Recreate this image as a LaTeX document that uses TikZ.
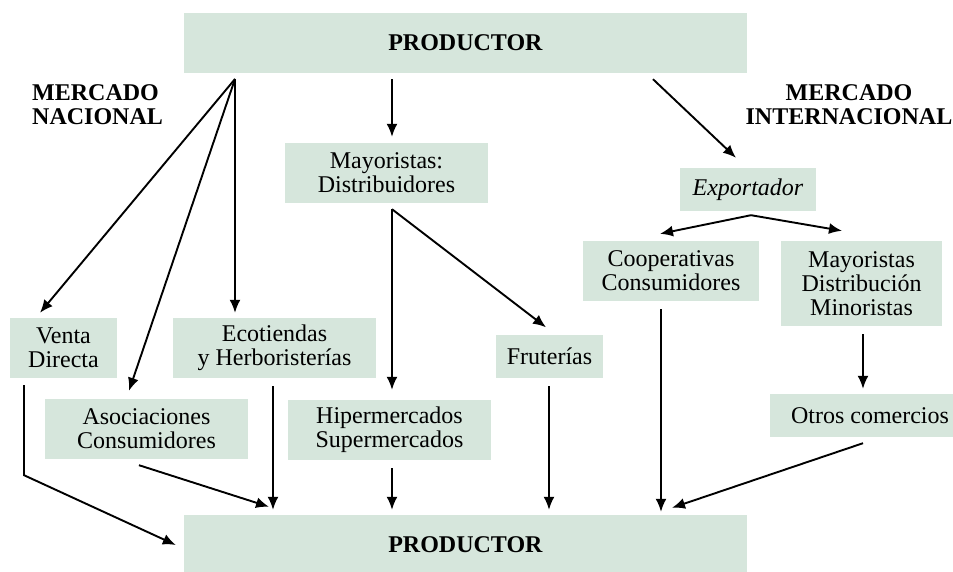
\documentclass[tikz,border=0pt]{standalone}
\usepackage{fontspec}
\setmainfont{Liberation Serif}
\usetikzlibrary{arrows.meta,calc}
\definecolor{cajaverde}{RGB}{214,230,220}
\tikzset{
  caja/.style={fill=cajaverde, inner sep=0pt, align=center, font=\fontsize{24}{24}\selectfont},
  titulo/.style={inner sep=0pt, font=\fontsize{24}{24}\selectfont\bfseries},
  flecha/.style={-{Latex[length=13pt,width=11pt]}, line width=1.9pt},
}
\begin{document}
\begin{tikzpicture}[x=1pt,y=1pt]
	\useasboundingbox (0,0) rectangle (953,571);
	%Cajas
	\node[caja, minimum width=563, minimum height=60] (prodA) at (465.5,528) {\textbf{PRODUCTOR}};
	\node[caja, minimum width=203, minimum height=60] (mayor) at (386.5,398) {Mayoristas:\\Distribuidores};
	\node[caja, minimum width=136, minimum height=43] (export) at (748,381.5) {\textit{Exportador}};
	\node[caja, minimum width=176, minimum height=60] (coop) at (671,300) {Cooperativas\\Consumidores};
	\node[caja, minimum width=161, minimum height=85] (mdm) at (861.5,287.5) {Mayoristas\\Distribución\\Minoristas};
	\node[caja, minimum width=107, minimum height=60] (venta) at (63.5,223) {Venta\\Directa};
	\node[caja, minimum width=203, minimum height=60] (eco) at (274.5,223) {Ecotiendas\\y Herboristerías};
	\node[caja, minimum width=107, minimum height=43] (fruta) at (549.5,214.5) {Fruterías};
	\node[caja, minimum width=203, minimum height=60] (asoc) at (146.5,142) {Asociaciones\\Consumidores};
	\node[caja, minimum width=203, minimum height=60] (hiper) at (389.5,141) {Hipermercados\\Supermercados};
	\node[caja, minimum width=200, minimum height=43] (otros) at (870,155.5) {Otros comercios};
	\node[caja, minimum width=563, minimum height=60] (prodB) at (465.5,26) {\textbf{PRODUCTOR}};
	%Titulos
	\node[titulo, anchor=west, align=left] (nac) at (32,466) {MERCADO\\NACIONAL};
	\node[titulo, align=center] (inter) at (849,466) {MERCADO\\INTERNACIONAL};
	%Flechas mercado nacional
	\coordinate (abanico) at (235,492);
	\draw[flecha] (abanico) -- ($(venta.north)+(-23.5,5)$);
	\draw[flecha] (abanico) -- ($(asoc.north)+(-17.5,8)$);
	\draw[flecha] (abanico) -- ($(eco.north)+(-39.5,5)$);
	\draw[flecha] ($(prodA.south)+(-73.5,-6)$) -- ($(mayor.north)+(5.5,6)$);
	\coordinate (mayorsal) at ($(mayor.south)+(5.5,-6)$);
	\draw[flecha] (mayorsal) -- ($(hiper.north)+(2.5,10)$);
	\draw[flecha] (mayorsal) -- ($(fruta.north)+(-3.5,7.5)$);
	%Flechas mercado internacional
	\draw[flecha] ($(prodA.south)+(187.5,-6)$) -- ($(export.north)+(-12,10)$);
	\coordinate (exportsal) at ($(export.south)+(3,-4)$);
	\draw[flecha] (exportsal) -- ($(coop.north)+(-11,7)$);
	\draw[flecha] (exportsal) -- ($(mdm.north)+(-19.5,10)$);
	\draw[flecha] ($(mdm.south)+(1.5,-8)$) -- ($(otros.north)+(-7,5)$);
	%Flechas al productor de abajo
	\draw[flecha] ($(venta.south)+(-39.5,-7)$) -- ++(0,-90) -- ($(prodB.west)+(-8,0)$);
	\draw[flecha] ($(asoc.south)+(-7.5,-6)$) -- ($(prodB.north)+(-196.5,8)$);
	\draw[flecha] ($(eco.south)+(-1.5,-8)$) -- ($(prodB.north)+(-192.5,5)$);
	\draw[flecha] ($(hiper.south)+(2.5,-8)$) -- ($(prodB.north)+(-73.5,5)$);
	\draw[flecha] ($(fruta.south)+(-0.5,-8)$) -- ($(prodB.north)+(83.5,5)$);
	\draw[flecha] ($(coop.south)+(-10,-8)$) -- ($(prodB.north)+(195.5,3)$);
	\draw[flecha] ($(otros.south)+(-7,-6)$) -- ($(prodB.north)+(206.5,7)$);
\end{tikzpicture}
\end{document}
